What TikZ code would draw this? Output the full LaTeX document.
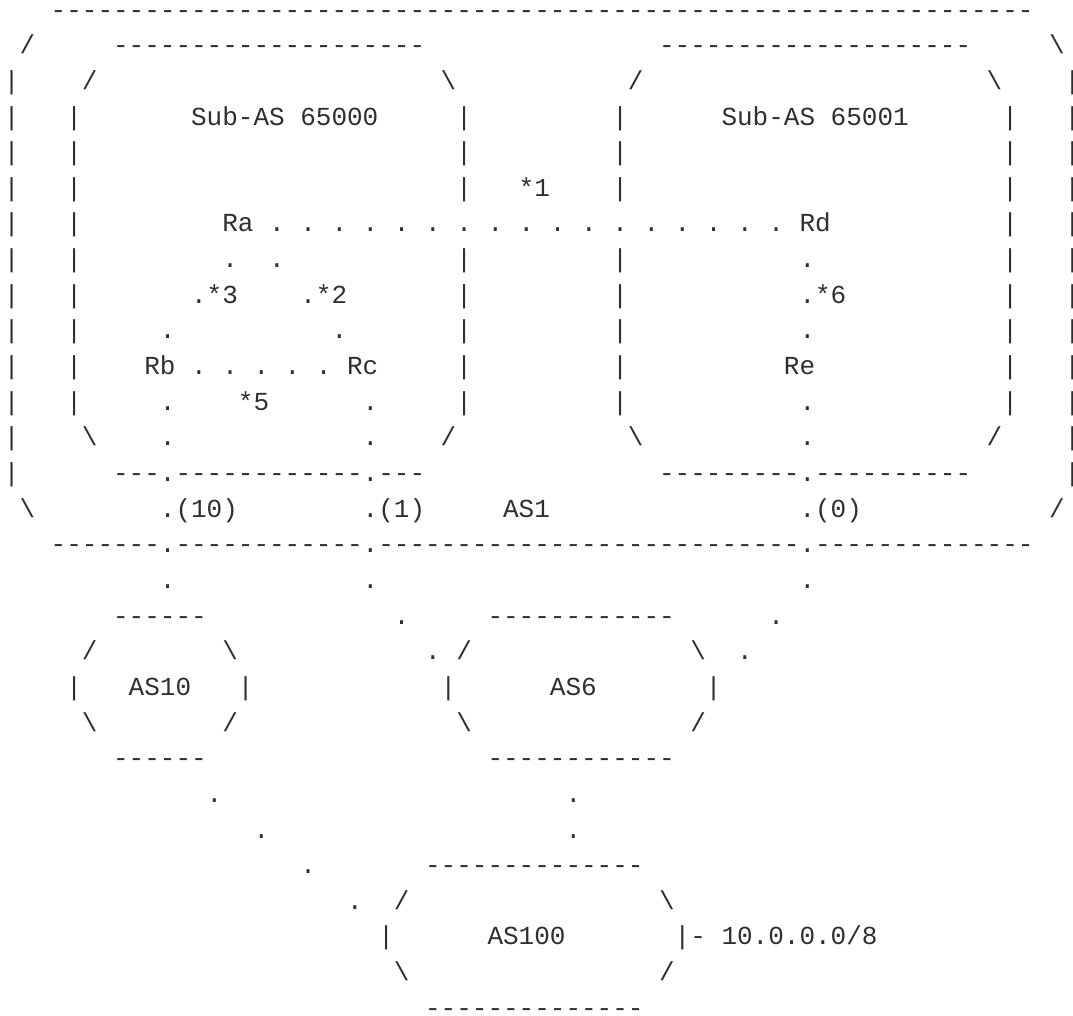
\documentclass[tikz,border=0pt]{standalone}
\usepackage{fontspec}
\setmonofont{Liberation Mono}
\usepackage{tikz}
\definecolor{ink}{HTML}{2F2F2F}
\newcommand{\dashes}[1]{\foreach \i in {1,...,#1}{-}}
\newcommand{\dotrun}[1]{.\foreach \i in {2,...,#1}{\ .}}
\newcommand{\bs}{\textbackslash}
\tikzset{
  ch/.style ={anchor=base west, inner sep=0pt, outer sep=0pt, text=ink,
              font=\ttfamily\fontsize{19.5}{20}\selectfont},
}
\begin{document}
\begin{tikzpicture}[x=11.7pt, y=26.7375pt]
  \useasboundingbox (-0.25,-0.4937) rectangle (68.53,-28.965);
  % AS1 outline
  \node[ch] (asTop) at (3,-1)  {\dashes{63}};
  \node[ch] (asTL)  at (1,-2)  {/};
  \node[ch] (asTR)  at (67,-2) {\bs};
  \foreach \r in {3,...,14} {
    \node[ch] (asL\r) at (0,-\r)  {|};
    \node[ch] (asR\r) at (68,-\r) {|};
  }
  \node[ch] (asBL)  at (1,-15)  {\bs};
  \node[ch] (asBR)  at (67,-15) {/};
  \node[ch] (as1)   at (32,-15) {AS1};
  \node[ch] (asBot) at (3,-16)  {\dashes{7}.\dashes{12}.\dashes{27}.\dashes{14}};

  % Sub-AS 65000
  \node[ch] (aTop) at (7,-2)  {\dashes{20}};
  \node[ch] (aTL)  at (5,-3)  {/};
  \node[ch] (aTR)  at (28,-3) {\bs};
  \foreach \r in {4,...,12} \node[ch] (aL\r) at (4,-\r) {|};
  \foreach \r in {4,5,6,8,9,10,11,12} \node[ch] (aR\r) at (29,-\r) {|};
  \node[ch] (aBL)  at (5,-13)  {\bs};
  \node[ch] (aBR)  at (28,-13) {/};
  \node[ch] (aBot) at (7,-14)  {\dashes{3}.\dashes{12}.\dashes{3}};
  \node[ch] (subA) at (12,-4)  {Sub-AS 65000};

  % Sub-AS 65001
  \node[ch] (bTop) at (42,-2) {\dashes{20}};
  \node[ch] (bTL)  at (40,-3) {/};
  \node[ch] (bTR)  at (63,-3) {\bs};
  \foreach \r in {4,5,6,8,9,10,11,12} \node[ch] (bL\r) at (39,-\r) {|};
  \foreach \r in {4,...,12} \node[ch] (bR\r) at (64,-\r) {|};
  \node[ch] (bBL)  at (40,-13) {\bs};
  \node[ch] (bBR)  at (63,-13) {/};
  \node[ch] (bBot) at (42,-14) {\dashes{9}.\dashes{10}};
  \node[ch] (subB) at (46,-4)  {Sub-AS 65001};

  % routers and sessions
  \node[ch] (m1)  at (33,-6)  {*1};
  \node[ch] (ra)  at (14,-7)  {Ra};
  \node[ch] (ad)  at (17,-7)  {\dotrun{17}};
  \node[ch] (rd)  at (51,-7)  {Rd};
  \node[ch] (ab1) at (14,-8)  {.};
  \node[ch] (ac1) at (17,-8)  {.};
  \node[ch] (de1) at (51,-8)  {.};
  \node[ch] (ab2) at (12,-9)  {.*3};
  \node[ch] (ac2) at (19,-9)  {.*2};
  \node[ch] (de2) at (51,-9)  {.*6};
  \node[ch] (ab3) at (10,-10) {.};
  \node[ch] (ac3) at (21,-10) {.};
  \node[ch] (de3) at (51,-10) {.};
  \node[ch] (rb)  at (9,-11)  {Rb};
  \node[ch] (bc)  at (12,-11) {\dotrun{5}};
  \node[ch] (rc)  at (22,-11) {Rc};
  \node[ch] (re)  at (50,-11) {Re};
  \node[ch] (b1)  at (10,-12) {.};
  \node[ch] (m5)  at (15,-12) {*5};
  \node[ch] (c1)  at (23,-12) {.};
  \node[ch] (e1)  at (51,-12) {.};
  \node[ch] (b2)  at (10,-13) {.};
  \node[ch] (c2)  at (23,-13) {.};
  \node[ch] (e2)  at (51,-13) {.};

  % links out of AS1
  \node[ch] (lb) at (10,-15) {.(10)};
  \node[ch] (lc) at (23,-15) {.(1)};
  \node[ch] (le) at (51,-15) {.(0)};
  \node[ch] (b3) at (10,-17) {.};
  \node[ch] (c3) at (23,-17) {.};
  \node[ch] (e3) at (51,-17) {.};
  \node[ch] (c4) at (25,-18) {.};
  \node[ch] (e4) at (49,-18) {.};
  \node[ch] (c5) at (27,-19) {.};
  \node[ch] (e5) at (47,-19) {.};

  % AS10
  \node[ch] (xTop) at (7,-18)  {\dashes{6}};
  \node[ch] (xTL)  at (5,-19)  {/};
  \node[ch] (xTR)  at (14,-19) {\bs};
  \node[ch] (xL)   at (4,-20)  {|};
  \node[ch] (as10) at (8,-20)  {AS10};
  \node[ch] (xR)   at (15,-20) {|};
  \node[ch] (xBL)  at (5,-21)  {\bs};
  \node[ch] (xBR)  at (14,-21) {/};
  \node[ch] (xBot) at (7,-22)  {\dashes{6}};

  % AS6
  \node[ch] (yTop) at (31,-18) {\dashes{12}};
  \node[ch] (yTL)  at (29,-19) {/};
  \node[ch] (yTR)  at (44,-19) {\bs};
  \node[ch] (yL)   at (28,-20) {|};
  \node[ch] (as6)  at (35,-20) {AS6};
  \node[ch] (yR)   at (45,-20) {|};
  \node[ch] (yBL)  at (29,-21) {\bs};
  \node[ch] (yBR)  at (44,-21) {/};
  \node[ch] (yBot) at (31,-22) {\dashes{12}};

  % down to AS100
  \node[ch] (x1) at (13,-23) {.};
  \node[ch] (x2) at (16,-24) {.};
  \node[ch] (x3) at (19,-25) {.};
  \node[ch] (x4) at (22,-26) {.};
  \node[ch] (y1) at (36,-23) {.};
  \node[ch] (y2) at (36,-24) {.};

  % AS100
  \node[ch] (zTop)  at (27,-25) {\dashes{14}};
  \node[ch] (zTL)   at (25,-26) {/};
  \node[ch] (zTR)   at (42,-26) {\bs};
  \node[ch] (zL)    at (24,-27) {|};
  \node[ch] (as100) at (31,-27) {AS100};
  \node[ch] (zR)    at (43,-27) {|- 10.0.0.0/8};
  \node[ch] (zBL)   at (25,-28) {\bs};
  \node[ch] (zBR)   at (42,-28) {/};
  \node[ch] (zBot)  at (27,-29) {\dashes{14}};
\end{tikzpicture}
\end{document}
